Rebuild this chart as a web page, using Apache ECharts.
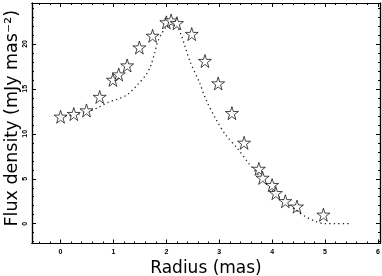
<!DOCTYPE html>
<html lang="en">
<head>
    <meta charset="UTF-8">
    <title>Flux density vs radius</title>
    <script src="https://cdn.jsdelivr.net/npm/echarts/dist/echarts.min.js"></script>
    <style>
        html, body { margin: 0; padding: 0; background: #fff; }
        #main { width: 382px; height: 276px; }
    </style>
</head>
<body>
    <div id="main"></div>
    <script>
        // measured points (stars)
        var starRadius = [0, 0.25, 0.49, 0.74, 0.99, 1.1, 1.26, 1.49, 1.74, 2.0, 2.09, 2.2,
                          2.48, 2.73, 2.98, 3.24, 3.47, 3.75, 3.82, 4.0, 4.07, 4.25, 4.47, 4.97];
        var starFlux = [11.9, 12.2, 12.6, 14.1, 16.0, 16.6, 17.6, 19.6, 20.9, 22.4, 22.6, 22.3,
                        21.1, 18.1, 15.6, 12.3, 9.0, 6.1, 5.1, 4.3, 3.4, 2.5, 1.9, 1.0];

        // model curve (dotted)
        var modelRadius = [0, 0.25, 0.5, 0.7, 0.9, 1.05, 1.25, 1.43, 1.62, 1.7, 1.78, 1.84, 1.9, 1.97,
                           2.05, 2.12, 2.2, 2.28, 2.36, 2.45, 2.62, 2.75, 2.94, 3.12, 3.34, 3.56,
                           3.75, 3.94, 4.13, 4.32, 4.5, 4.63, 4.82, 5.0, 5.2, 5.45];
        var modelFlux = [11.9, 12.1, 12.4, 12.9, 13.5, 13.8, 14.3, 15.3, 16.6, 17.5, 19.0, 20.3, 21.0, 21.7,
                         22.1, 22.3, 22.0, 21.0, 19.6, 18.0, 15.8, 13.8, 11.6, 9.9, 8.4, 6.7,
                         5.4, 4.1, 3.0, 2.1, 1.3, 0.8, 0.26, 0.0, 0.0, 0.0];

        var xMajor = [0, 1, 2, 3, 4, 5, 6];
        var yMajor = [0, 5, 10, 15, 20];

        var X_MIN = -0.54, X_MAX = 6.04, Y_MIN = -2.2, Y_MAX = 24.55;

        // minor tick positions (inside the range only)
        var xMinor = [];
        for (var i = -2; i <= 30; i++) {
            if (i % 5 !== 0 && i / 5 > X_MIN && i / 5 < X_MAX) xMinor.push(i / 5);
        }
        var yMinor = [];
        for (var j = -2; j <= 24; j++) {
            if (j % 5 !== 0 && j > Y_MIN && j < Y_MAX) yMinor.push(j);
        }

        var starPath = 'path://M50,2 L61,37 L98,37 L68,59 L79,95 L50,73 L21,95 L32,59 L2,37 L39,37 Z';

        var chart = echarts.init(document.getElementById('main'));

        // frame axes sit "on zero" of a hidden helper axis whose zero is the grid edge
        // (index 4: zero at bottom/left, index 5: zero at top/right)
        function ax(type, pos, ticks, len, labels, extra) {
            var isX = type === 'x';
            var a = {
                type: 'value', position: pos,
                min: isX ? X_MIN : Y_MIN, max: isX ? X_MAX : Y_MAX,
                axisLine: {
                    show: true, onZeroAxisIndex: (pos === 'bottom' || pos === 'left') ? 4 : 5,
                    lineStyle: { color: '#000', width: 1.2 }
                },
                axisTick: { show: true, inside: true, length: len, customValues: ticks,
                            lineStyle: { color: '#000', width: 1 } },
                axisLabel: labels ? {
                    customValues: labels, margin: 5,
                    fontSize: 7, fontWeight: 'bold', color: '#000', fontFamily: 'Liberation Sans'
                } : { show: false },
                splitLine: { show: false }
            };
            return Object.assign(a, extra || {});
        }

        var option = {
            animation: false,
            backgroundColor: '#fff',
            grid: { left: 32, right: 2, top: 3, bottom: 32.5, outerBoundsMode: 'none' },
            xAxis: [
                ax('x', 'bottom', xMajor, 4, xMajor, {
                    name: 'Radius (mas)', nameLocation: 'middle', nameGap: 17,
                    nameTextStyle: { fontSize: 17, color: '#000', fontFamily: 'DejaVu Sans' }
                }),
                ax('x', 'bottom', xMinor, 2, null),
                ax('x', 'top', xMajor, 4, null),
                ax('x', 'top', xMinor, 2, null),
                { type: 'value', min: 0, max: 1, show: false },
                { type: 'value', min: -1, max: 0, show: false }
            ],
            yAxis: [
                // data axis: carries labels and title only; its line sits on x = 0,
                // labels and name are shifted back to the left edge by ECharts
                {
                    type: 'value', position: 'left', min: Y_MIN, max: Y_MAX,
                    axisLine: { show: false, onZeroAxisIndex: 0 },
                    axisTick: { show: false },
                    axisLabel: {
                        customValues: yMajor, margin: 3, rotate: 90,
                        fontSize: 7, fontWeight: 'bold', color: '#000', fontFamily: 'Liberation Sans'
                    },
                    splitLine: { show: false },
                    name: 'Flux density (mJy mas\u207B\u00B2)', nameLocation: 'middle', nameGap: 11,
                    nameRotate: 90, nameMoveOverlap: false,
                    nameTextStyle: { fontSize: 17.5, color: '#000', fontFamily: 'DejaVu Sans',
                                     padding: [0, 0, 0, 10] }
                },
                ax('y', 'left', yMinor, 2, null),
                ax('y', 'right', yMajor, 4, null),
                ax('y', 'right', yMinor, 2, null),
                { type: 'value', min: 0, max: 1, show: false },
                { type: 'value', min: -1, max: 0, show: false },
                ax('y', 'left', yMajor, 4, null)
            ],
            series: [
                {
                    type: 'line',
                    xAxisIndex: 0, yAxisIndex: 0,
                    data: modelRadius.map(function (r, k) { return [r, modelFlux[k]]; }),
                    showSymbol: false,
                    symbol: 'none',
                    smooth: 0.3,
                    lineStyle: { color: '#222', width: 1.3, type: [1.3, 3.2] },
                    z: 2
                },
                {
                    type: 'scatter',
                    xAxisIndex: 0, yAxisIndex: 0,
                    data: starRadius.map(function (r, k) { return [r, starFlux[k]]; }),
                    symbol: starPath,
                    symbolSize: 13,
                    itemStyle: { color: '#fff', borderColor: '#000', borderWidth: 0.9 },
                    z: 3
                }
            ]
        };

        chart.setOption(option);
    </script>
</body>
</html>
